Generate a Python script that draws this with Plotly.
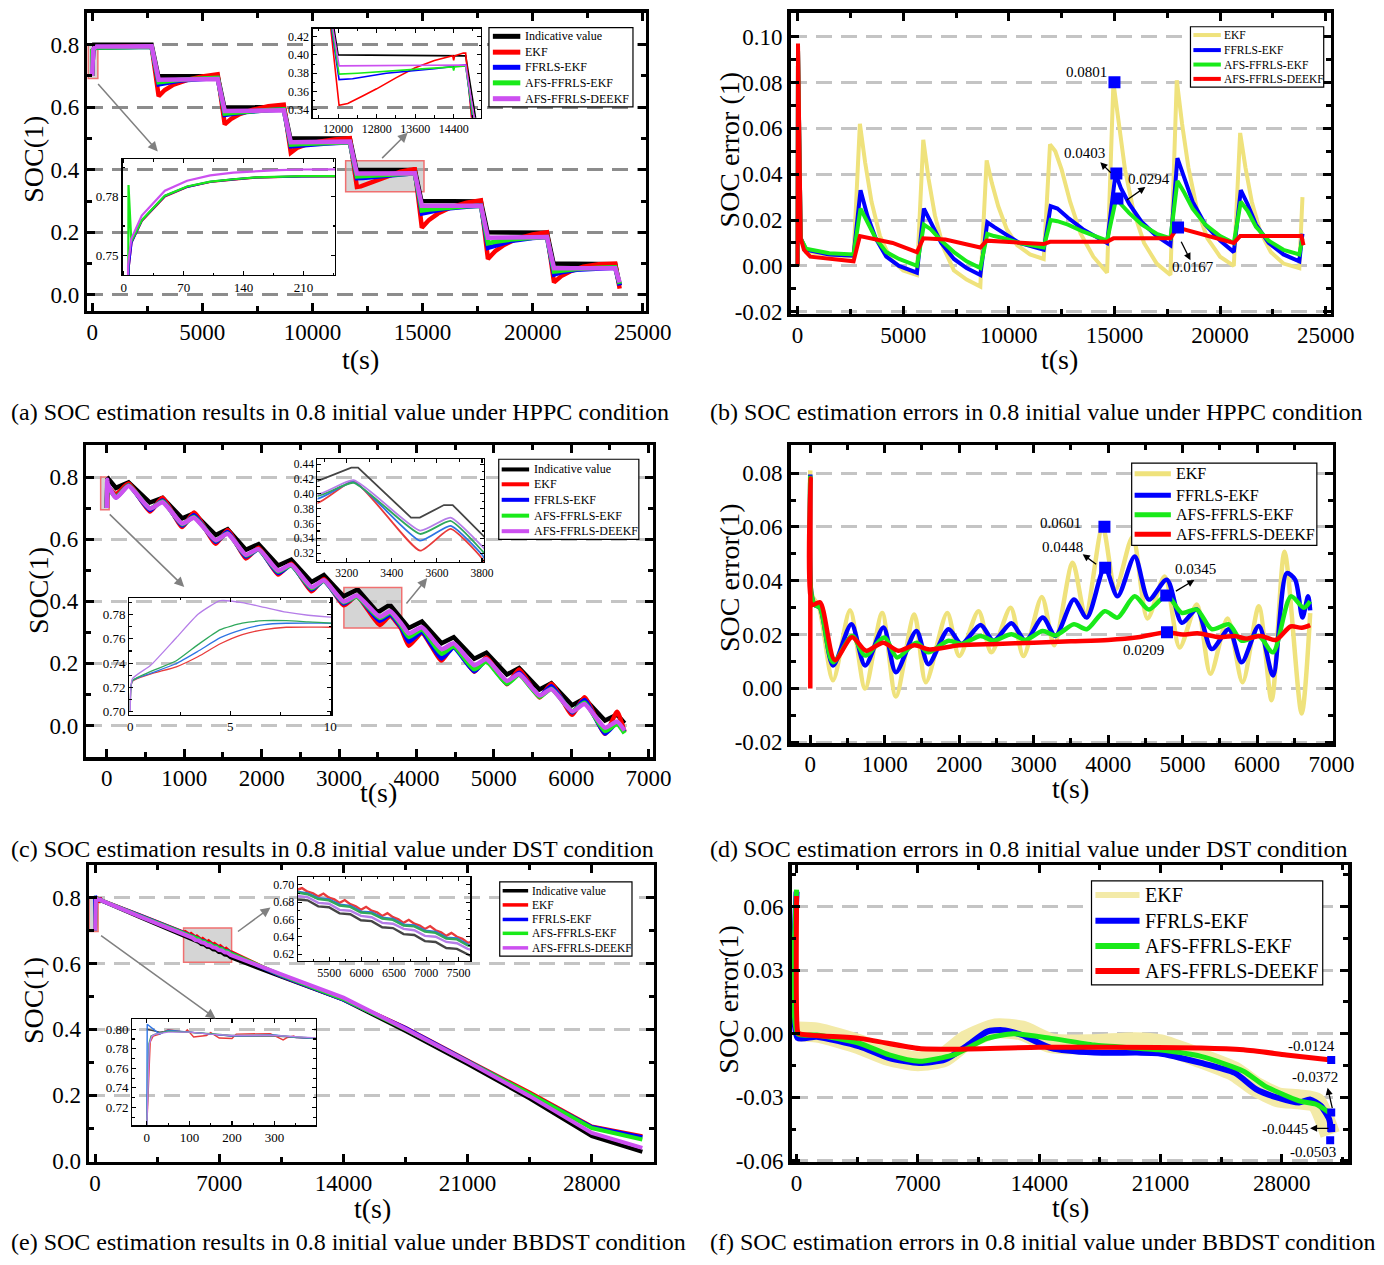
import plotly.graph_objects as go

PAGE_W, PAGE_H = 1384, 1265
OFF = 0
FW, FH = PAGE_W - 2 * OFF, PAGE_H - 2 * OFF
FONT = "Liberation Serif"

BLACK = "#000000"
RED = "#ff0000"
BLUE = "#0000ff"
GREEN = "#19ea19"
VIOLET = "#cc50f0"
YELLOW = "#efe27c"
YELLOW_BAND = "#f3eaa8"
GRAY_ARROW = "#808080"
IN_BLACK = "#454545"
IN_RED = "#e83b3b"
IN_BLUE = "#2e74e4"
IN_GREEN = "#2fa85c"
IN_VIOLET = "#b57de8"

SOC_NAMES = ["Indicative value", "EKF", "FFRLS-EKF", "AFS-FFRLS-EKF", "AFS-FFRLS-DEEKF"]
ERR_NAMES = ["EKF", "FFRLS-EKF", "AFS-FFRLS-EKF", "AFS-FFRLS-DEEKF"]

# ---------------- (a) HPPC SOC (t, SOC) ----------------
A_IND = [(0, 0.800), (2700, 0.800), (3000, 0.700), (5700, 0.699), (6000, 0.600), (8700, 0.599),
         (9000, 0.500), (11700, 0.500), (12000, 0.400), (14650, 0.399), (14950, 0.300), (17650, 0.299),
         (17950, 0.200), (20650, 0.199), (20950, 0.100), (23750, 0.098), (23950, 0.030)]
A_EKF = [(0, 0.70), (5, 0.70), (6, 0.745), (9, 0.7565), (21, 0.7676), (48, 0.7802), (74, 0.785), (101, 0.7876),
         (128, 0.7888), (154, 0.7898), (208, 0.7904), (246, 0.7908), (600, 0.792), (1500, 0.794), (2700, 0.795),
         (3020, 0.635), (3300, 0.655), (3700, 0.672), (4300, 0.687), (5000, 0.698), (5650, 0.705), (5700, 0.705),
         (6020, 0.545), (6300, 0.562), (6700, 0.578), (7300, 0.592), (8000, 0.603), (8650, 0.608), (8700, 0.608),
         (9020, 0.455), (9300, 0.470), (9700, 0.480), (10300, 0.490), (11000, 0.497), (11650, 0.501), (11700, 0.501),
         (12020, 0.345), (12200, 0.347), (12500, 0.355), (12800, 0.363), (13200, 0.375), (13600, 0.386), (14000, 0.394),
         (14380, 0.399), (14400, 0.394), (14420, 0.399), (14600, 0.402), (14650, 0.402),
         (14970, 0.215), (15300, 0.240), (15700, 0.260), (16300, 0.280), (17000, 0.295), (17600, 0.302), (17650, 0.302),
         (17970, 0.115), (18300, 0.140), (18700, 0.160), (19300, 0.180), (20000, 0.193), (20600, 0.200), (20650, 0.200),
         (20970, 0.040), (21300, 0.060), (21700, 0.075), (22300, 0.090), (23000, 0.098), (23700, 0.100), (23750, 0.100),
         (23950, 0.020)]
A_FF = [(0, 0.70), (5, 0.70), (6, 0.745), (9, 0.7565), (21, 0.7678), (48, 0.7804), (74, 0.7851), (101, 0.7877),
        (128, 0.7889), (154, 0.7899), (208, 0.7905), (246, 0.7909), (600, 0.791), (1500, 0.792), (2700, 0.793),
        (3020, 0.673), (3300, 0.677), (4000, 0.685), (5000, 0.690), (5700, 0.693),
        (6020, 0.575), (6300, 0.578), (7000, 0.585), (8000, 0.590), (8700, 0.593),
        (9020, 0.475), (9500, 0.478), (10500, 0.483), (11700, 0.488),
        (12020, 0.373), (12300, 0.374), (13000, 0.380), (14000, 0.385), (14650, 0.389),
        (14970, 0.260), (15300, 0.265), (16000, 0.275), (17000, 0.282), (17650, 0.285),
        (17970, 0.150), (18300, 0.158), (19000, 0.172), (20000, 0.182), (20650, 0.185),
        (20970, 0.065), (21300, 0.072), (22000, 0.080), (23000, 0.085), (23750, 0.087),
        (23950, 0.030)]
A_AFS = [(0, 0.70), (5, 0.70), (5.5, 0.786), (7, 0.772), (8.8, 0.757), (21, 0.768), (48, 0.7806), (74, 0.7853),
         (101, 0.7878), (128, 0.789), (154, 0.790), (208, 0.7906), (246, 0.791), (600, 0.791), (1500, 0.792), (2700, 0.793),
         (3020, 0.680), (3300, 0.683), (4000, 0.688), (5000, 0.692), (5700, 0.694),
         (6020, 0.580), (6300, 0.582), (7000, 0.587), (8000, 0.591), (8700, 0.593),
         (9020, 0.480), (9500, 0.482), (10500, 0.485), (11700, 0.488),
         (12020, 0.379), (12400, 0.380), (13500, 0.384), (14380, 0.387), (14400, 0.383), (14420, 0.387), (14650, 0.388),
         (14970, 0.270), (15300, 0.273), (16000, 0.278), (17000, 0.283), (17650, 0.285),
         (17970, 0.165), (18300, 0.170), (19000, 0.177), (20000, 0.183), (20650, 0.185),
         (20970, 0.075), (21300, 0.078), (22000, 0.083), (23000, 0.087), (23750, 0.088),
         (23950, 0.035)]
A_DE = [(0, 0.70), (4.5, 0.70), (5, 0.745), (8.8, 0.7585), (21, 0.7704), (48, 0.7831), (74, 0.7882), (101, 0.791),
        (128, 0.7924), (154, 0.7932), (181, 0.7937), (208, 0.794), (246, 0.7941), (1500, 0.7945), (2700, 0.795),
        (3020, 0.688), (5700, 0.690), (6020, 0.588), (8700, 0.590), (9020, 0.488), (11700, 0.490),
        (12020, 0.388), (14650, 0.389), (14970, 0.285), (17650, 0.285), (17970, 0.183), (20650, 0.185),
        (20970, 0.085), (23750, 0.085), (23950, 0.040)]

# ---------------- (b) HPPC errors ----------------
B_EKF = [(0, 0.0), (20, 0.095), (150, 0.012), (400, 0.006), (1500, 0.005), (2650, 0.004),
         (2950, 0.062), (3200, 0.045), (3500, 0.028), (3900, 0.013), (4400, 0.003), (5000, -0.002), (5650, -0.004),
         (5950, 0.055), (6200, 0.038), (6500, 0.022), (6900, 0.008), (7400, -0.002), (8000, -0.006), (8650, -0.009),
         (8950, 0.046), (9200, 0.036), (9500, 0.026), (9900, 0.016), (10400, 0.009), (11000, 0.005), (11650, 0.003),
         (11950, 0.053), (12200, 0.050), (12500, 0.042), (12900, 0.028), (13400, 0.014), (14000, 0.004), (14650, -0.003),
         (14950, 0.080), (15200, 0.062), (15500, 0.042), (15900, 0.024), (16400, 0.010), (17000, 0.001), (17650, -0.004),
         (17950, 0.081), (18200, 0.062), (18500, 0.043), (18900, 0.025), (19400, 0.012), (20000, 0.004), (20650, 0.000),
         (20950, 0.058), (21200, 0.043), (21500, 0.028), (21900, 0.015), (22400, 0.006), (23000, 0.001), (23750, -0.001),
         (23900, 0.030)]
B_FF = [(0, 0.0), (20, 0.095), (150, 0.012), (400, 0.007), (1500, 0.005), (2650, 0.0045),
        (2980, 0.033), (3300, 0.022), (3700, 0.012), (4200, 0.004), (4800, 0.000), (5650, -0.003),
        (5980, 0.025), (6300, 0.019), (6800, 0.010), (7400, 0.003), (8000, -0.001), (8650, -0.004),
        (8980, 0.019), (9300, 0.017), (9800, 0.014), (10500, 0.010), (11650, 0.007),
        (11980, 0.026), (12300, 0.025), (12800, 0.021), (13500, 0.016), (14650, 0.010),
        (15050, 0.0403), (15300, 0.034), (15700, 0.027), (16300, 0.019), (17000, 0.013), (17650, 0.009),
        (17980, 0.047), (18300, 0.038), (18700, 0.028), (19300, 0.018), (20000, 0.011), (20650, 0.006),
        (20980, 0.033), (21300, 0.027), (21700, 0.018), (22300, 0.010), (23000, 0.005), (23750, 0.002),
        (23900, 0.014)]
B_AFS = [(0, 0.0), (20, 0.095), (150, 0.012), (400, 0.0075), (1500, 0.0055), (2650, 0.005),
         (2980, 0.025), (3300, 0.019), (3700, 0.012), (4200, 0.006), (4800, 0.003), (5650, 0.000),
         (5980, 0.018), (6300, 0.016), (6800, 0.011), (7400, 0.006), (8000, 0.002), (8650, -0.001),
         (8980, 0.014), (9300, 0.013), (9800, 0.012), (10500, 0.010), (11650, 0.008),
         (11980, 0.020), (12300, 0.0195), (12800, 0.018), (13500, 0.015), (14650, 0.011),
         (15080, 0.0294), (15300, 0.027), (15700, 0.023), (16300, 0.018), (17000, 0.014), (17650, 0.012),
         (17980, 0.037), (18300, 0.032), (18700, 0.025), (19300, 0.018), (20000, 0.013), (20650, 0.010),
         (20980, 0.028), (21300, 0.024), (21700, 0.017), (22300, 0.011), (23000, 0.007), (23750, 0.005),
         (23900, 0.012)]
B_DE = [(0, 0.0), (20, 0.097), (150, 0.012), (300, 0.007), (600, 0.004), (1500, 0.003), (2650, 0.002),
        (2950, 0.013), (3500, 0.012), (4500, 0.010), (5650, 0.006), (5950, 0.012), (7000, 0.0115), (8650, 0.008),
        (8950, 0.011), (10000, 0.0105), (11650, 0.0095), (11950, 0.0105), (14650, 0.0105), (14950, 0.012),
        (17650, 0.012), (17980, 0.0167), (19000, 0.014), (20650, 0.010), (20950, 0.013), (23850, 0.013),
        (23950, 0.009)]
B_MARK_T = [15000, 15090, 15140, 18010]
B_MARK_V = [0.0801, 0.0403, 0.0294, 0.0167]

# ---------------- (c) DST SOC ----------------
C_IND = [(0, 0.800), (118, 0.765), (281, 0.783), (557, 0.718), (720, 0.733), (974, 0.667), (1126, 0.683),
         (1407, 0.613), (1560, 0.632), (1796, 0.566), (1960, 0.584), (2213, 0.515), (2382, 0.534), (2646, 0.462),
         (2804, 0.484), (3060, 0.416), (3220, 0.4355), (3250, 0.4355), (3485, 0.368), (3524, 0.368), (3631, 0.385),
         (3670, 0.385), (3902, 0.314), (4071, 0.335), (4324, 0.265), (4482, 0.284), (4747, 0.215), (4904, 0.234),
         (5169, 0.164), (5327, 0.185), (5591, 0.116), (5743, 0.136), (6013, 0.065), (6171, 0.087), (6436, 0.016),
         (6593, 0.035), (6689, 0.007)]
C_T_EARLY = [0, 0.1, 1.0, 2.3, 3.4, 4.5, 5.6, 6.7, 7.8, 8.9, 10]
C_T_KEY = [118, 281, 557, 720, 974, 1126, 1407, 1560, 1796, 1960, 2213, 2382, 2646, 2804, 3060, 3230, 3525,
           3660, 3800, 3902, 4071, 4324, 4482, 4747, 4904, 5169, 5327, 5591, 5743, 6013, 6171, 6436, 6593, 6689]
C_EKF_EARLY = [0.70, 0.725, 0.731, 0.737, 0.7455, 0.756, 0.7636, 0.7677, 0.7696, 0.7698, 0.7696]
C_FF_EARLY = [0.70, 0.7255, 0.7315, 0.7397, 0.750, 0.761, 0.7677, 0.7718, 0.7729, 0.773, 0.7729]
C_AFS_EARLY = [0.70, 0.7255, 0.733, 0.742, 0.7555, 0.7677, 0.773, 0.775, 0.775, 0.774, 0.773]
C_DE_EARLY = [0.70, 0.727, 0.738, 0.761, 0.7805, 0.7915, 0.790, 0.786, 0.782, 0.7795, 0.778]
C_EKF_KEY = [0.745, 0.779, 0.689, 0.733, 0.639, 0.686, 0.5855, 0.6297, 0.538, 0.572, 0.486, 0.5206, 0.432, 0.472,
             0.387, 0.417, 0.3235, 0.353, 0.313, 0.257, 0.298, 0.209, 0.258, 0.173, 0.219, 0.133, 0.180, 0.090,
             0.134, 0.0345, 0.091, -0.027, 0.044, -0.021]
C_FF_KEY = [0.735, 0.774, 0.694, 0.7245, 0.644, 0.677, 0.5917, 0.623, 0.544, 0.5675, 0.491, 0.516, 0.438, 0.466,
            0.393, 0.416, 0.337, 0.357, 0.318, 0.270, 0.301, 0.216, 0.251, 0.175, 0.210, 0.135, 0.170, 0.094,
            0.126, 0.042, 0.082, -0.026, 0.009, -0.022]
C_AFS_KEY = [0.735, 0.773, 0.6985, 0.721, 0.648, 0.6715, 0.596, 0.6186, 0.548, 0.5675, 0.4955, 0.516, 0.442, 0.466,
             0.397, 0.415, 0.346, 0.3636, 0.3235, 0.285, 0.309, 0.231, 0.255, 0.181, 0.206, 0.135, 0.163, 0.092,
             0.118, 0.0455, 0.0736, -0.018, 0.005, -0.025]
C_DE_KEY = [0.733, 0.771, 0.699, 0.719, 0.650, 0.669, 0.597, 0.6175, 0.550, 0.568, 0.499, 0.518, 0.4455, 0.4675,
            0.399, 0.4185, 0.3505, 0.368, 0.3295, 0.296, 0.3165, 0.246, 0.2645, 0.194, 0.214, 0.1435, 0.1655, 0.0965,
            0.117, 0.0455, 0.069, -0.007, 0.0125, -0.0165]

# ---------------- (d) DST errors ----------------
D_EKF = [(0, 0.081), (20, 0.035), (120, 0.030), (305, 0.003), (534, 0.029), (736, 0.0), (965, 0.028), (1149, -0.003),
         (1397, 0.0275), (1552, 0.0023), (1839, 0.028), (2000, 0.012), (2259, 0.0287), (2431, 0.0134), (2690, 0.030),
         (2862, 0.012), (3109, 0.034), (3276, 0.016), (3523, 0.0467), (3695, 0.027), (3925, 0.0601), (4098, 0.0367),
         (4328, 0.0563), (4529, 0.026), (4759, 0.0416), (4960, 0.0152), (5190, 0.0312), (5374, 0.0054), (5603, 0.026),
         (5805, 0.0023), (6023, 0.0305), (6195, -0.0044), (6368, 0.0508), (6598, -0.0093), (6713, 0.028)]
D_FF = [(0, 0.0795), (15, 0.035), (60, 0.031), (130, 0.030), (305, 0.0085), (552, 0.0238), (736, 0.0085), (983, 0.0226),
        (1149, 0.006), (1425, 0.0213), (1586, 0.009), (1856, 0.022), (2029, 0.0165), (2287, 0.0236), (2460, 0.0177),
        (2701, 0.0242), (2891, 0.0177), (3121, 0.0263), (3293, 0.0195), (3540, 0.033), (3713, 0.0263), (3954, 0.0448),
        (4126, 0.0342), (4356, 0.049), (4546, 0.033), (4787, 0.0404), (4989, 0.0244), (5190, 0.0293), (5391, 0.0146),
        (5621, 0.022), (5793, 0.0097), (6023, 0.0232), (6213, 0.0048), (6397, 0.0428), (6511, 0.0404), (6609, 0.0263),
        (6684, 0.0342), (6713, 0.029)]
D_AFS = [(0, 0.079), (15, 0.035), (60, 0.031), (130, 0.030), (305, 0.0097), (563, 0.0195), (736, 0.0122), (995, 0.0189),
         (1167, 0.0115), (1425, 0.017), (1586, 0.0134), (1856, 0.0177), (2029, 0.0165), (2287, 0.0195), (2460, 0.0177),
         (2701, 0.0201), (2891, 0.018), (3121, 0.0213), (3293, 0.0197), (3540, 0.0238), (3713, 0.022), (3954, 0.0287),
         (4126, 0.0263), (4356, 0.0342), (4546, 0.0293), (4787, 0.0345), (4989, 0.0281), (5190, 0.0293), (5391, 0.022),
         (5621, 0.0238), (5793, 0.0177), (6023, 0.0195), (6213, 0.0134), (6454, 0.0342), (6626, 0.030), (6713, 0.0324)]
D_DE = [(0, 0.0), (5, 0.078), (25, 0.031), (130, 0.032), (330, 0.0105), (560, 0.019), (750, 0.014), (980, 0.017),
        (1180, 0.014), (1400, 0.016), (1600, 0.0145), (2000, 0.016), (2500, 0.0165), (3000, 0.017), (3500, 0.0175),
        (4000, 0.018), (4400, 0.019), (4787, 0.0209), (5000, 0.020), (5200, 0.0205), (5500, 0.019), (5700, 0.0195),
        (5850, 0.0185), (6050, 0.0195), (6250, 0.018), (6450, 0.023), (6600, 0.0225), (6713, 0.0235)]
D_MARK_T = [3950, 3960, 4780, 4790]
D_MARK_V = [0.0601, 0.0448, 0.0345, 0.0209]

# ---------------- (e) BBDST SOC ----------------
E_IND = [(0, 0.800), (30, 0.797), (50, 0.798), (100, 0.797), (150, 0.795), (200, 0.793), (300, 0.793), (350, 0.7915),
         (2500, 0.742), (5000, 0.683), (5165, 0.682), (5330, 0.675), (5495, 0.674), (5660, 0.667), (5825, 0.666),
         (5990, 0.659), (6155, 0.658), (6320, 0.651), (6485, 0.650), (6650, 0.643), (6815, 0.642), (6980, 0.635),
         (7145, 0.634), (7310, 0.627), (7475, 0.626), (7640, 0.619), (7700, 0.6175), (10500, 0.560), (14000, 0.490),
         (17500, 0.395), (21000, 0.295), (24500, 0.190), (28000, 0.075), (30850, 0.028)]
E_EKF = [(0, 0.70), (8, 0.787), (15, 0.793), (30, 0.795), (50, 0.7995), (90, 0.797), (95, 0.7995), (110, 0.792),
         (140, 0.7935), (150, 0.7965), (170, 0.791), (200, 0.7905), (210, 0.795), (290, 0.7955), (320, 0.789),
         (330, 0.7915), (345, 0.793), (350, 0.7915), (2500, 0.747), (5000, 0.694), (5080, 0.696), (5165, 0.692),
         (5250, 0.690), (5330, 0.6865), (5410, 0.6898), (5495, 0.685), (5580, 0.683), (5660, 0.679), (5740, 0.6823),
         (5825, 0.6775), (5910, 0.675), (5990, 0.671), (6070, 0.6745), (6155, 0.670), (6240, 0.668), (6320, 0.664),
         (6400, 0.6673), (6485, 0.6625), (6570, 0.660), (6650, 0.656), (6730, 0.6595), (6815, 0.655), (6900, 0.653),
         (6980, 0.649), (7060, 0.6523), (7145, 0.6475), (7230, 0.645), (7310, 0.641), (7390, 0.6445), (7475, 0.640),
         (7560, 0.6375), (7640, 0.633), (7700, 0.634), (10500, 0.562), (14000, 0.491), (17500, 0.405), (21000, 0.305),
         (24500, 0.208), (28000, 0.105), (30850, 0.075)]
E_FF = [(0, 0.70), (1, 0.805), (30, 0.795), (50, 0.799), (100, 0.797), (150, 0.795), (200, 0.793), (300, 0.794),
        (350, 0.7915), (2500, 0.746), (5000, 0.692), (5165, 0.690), (5330, 0.6845), (5495, 0.683), (5660, 0.677),
        (5825, 0.6755), (5990, 0.669), (6155, 0.668), (6320, 0.662), (6485, 0.6605), (6650, 0.654), (6815, 0.653),
        (6980, 0.647), (7145, 0.6455), (7310, 0.639), (7475, 0.638), (7640, 0.631), (7700, 0.630), (10500, 0.562),
        (14000, 0.490), (17500, 0.404), (21000, 0.304), (24500, 0.206), (28000, 0.103), (30850, 0.072)]
E_AFS = [(0, 0.70), (5, 0.785), (10, 0.793), (20, 0.795), (50, 0.798), (100, 0.797), (150, 0.7955), (200, 0.7935),
         (300, 0.7935), (350, 0.792), (2500, 0.745), (5000, 0.691), (5165, 0.689), (5330, 0.6835), (5495, 0.682),
         (5660, 0.676), (5825, 0.6745), (5990, 0.668), (6155, 0.667), (6320, 0.661), (6485, 0.6595), (6650, 0.653),
         (6815, 0.652), (6980, 0.646), (7145, 0.6445), (7310, 0.638), (7475, 0.637), (7640, 0.630), (7700, 0.629),
         (10500, 0.565), (14000, 0.492), (17500, 0.4005), (21000, 0.3026), (24500, 0.204), (28000, 0.100), (30850, 0.065)]
E_DE = [(0, 0.70), (6, 0.785), (12, 0.793), (20, 0.795), (50, 0.797), (100, 0.797), (150, 0.795), (200, 0.7935),
        (300, 0.7935), (350, 0.792), (2500, 0.7435), (5000, 0.687), (5165, 0.6855), (5330, 0.679), (5495, 0.678),
        (5660, 0.671), (5825, 0.670), (5990, 0.664), (6155, 0.6625), (6320, 0.656), (6485, 0.655), (6650, 0.649),
        (6815, 0.6475), (6980, 0.641), (7145, 0.640), (7310, 0.634), (7475, 0.6325), (7640, 0.626), (7700, 0.625),
        (10500, 0.567), (14000, 0.4964), (17500, 0.4014), (21000, 0.3015), (24500, 0.197), (28000, 0.085), (30850, 0.040)]

# ---------------- (f) BBDST errors ----------------
F_EKF = [(60, 0.001), (1200, 0.0005), (3600, -0.005), (5300, -0.0105), (7000, -0.013), (8500, -0.011), (9800, -0.003),
         (11500, 0.0025), (13000, 0.0015), (14700, -0.0045), (17000, -0.005), (19500, -0.004), (21000, -0.005),
         (23300, -0.0115), (25300, -0.018), (26500, -0.025), (27800, -0.030), (29000, -0.031), (30000, -0.0325),
         (30800, -0.0475)]
F_FF = [(0, 0.067), (60, -0.002), (1160, -0.0014), (3620, -0.006), (5350, -0.0115), (7070, -0.0138), (8550, -0.0123),
        (9780, -0.006), (11000, 0.001), (11880, 0.0017), (13000, -0.0006), (14700, -0.0068), (17180, -0.0089),
        (19650, -0.0089), (20880, -0.0092), (23340, -0.0138), (25300, -0.0185), (26540, -0.0263), (27770, -0.0302),
        (29000, -0.0325), (29630, -0.031), (30250, -0.034), (30740, -0.0403), (30860, -0.0465)]
F_AFS = [(0, 0.068), (60, 0.0), (1160, -0.0006), (3620, -0.0045), (5350, -0.010), (7070, -0.013), (9050, -0.010),
         (11000, -0.0022), (12500, 0.0), (14700, -0.0022), (17180, -0.0053), (20880, -0.0076), (23340, -0.0107),
         (25800, -0.0177), (27040, -0.0247), (29000, -0.0317), (29980, -0.0333), (30740, -0.0372), (30860, -0.038)]
F_DE = [(0, 0.065), (60, 0.001), (150, 0.0), (3620, -0.0022), (7070, -0.007), (9050, -0.0073), (14000, -0.0064),
        (18400, -0.0064), (23340, -0.0067), (25800, -0.0076), (28270, -0.010), (30860, -0.0124)]
F_MARK_T = [30860, 30860, 30860, 30800]
F_MARK_V = [-0.0124, -0.0372, -0.0445, -0.0503]

# ---------------- tick labels ----------------
SOC_TICKS = [0.0, 0.2, 0.4, 0.6, 0.8]
SOC_TICKTEXT = ["0.0", "0.2", "0.4", "0.6", "0.8"]
HPPC_T_TICKS = [0, 5000, 10000, 15000, 20000, 25000]
DST_T_TICKS = [0, 1000, 2000, 3000, 4000, 5000, 6000, 7000]
BBDST_T_TICKS = [0, 7000, 14000, 21000, 28000]
B_Y_TICKS = [-0.02, 0.0, 0.02, 0.04, 0.06, 0.08, 0.10]
B_Y_TEXT = ["-0.02", "0.00", "0.02", "0.04", "0.06", "0.08", "0.10"]
D_Y_TICKS = [-0.02, 0.0, 0.02, 0.04, 0.06, 0.08]
D_Y_TEXT = ["-0.02", "0.00", "0.02", "0.04", "0.06", "0.08"]
F_Y_TICKS = [-0.06, -0.03, 0.0, 0.03, 0.06]
F_Y_TEXT = ["-0.06", "-0.03", "0.00", "0.03", "0.06"]

fig = go.Figure()
layout = {}
shapes = []
ann = []


def PX(x):
    return (x - OFF) / FW


def PY(y):
    return 1 - (y - OFF) / FH


def keys(n):
    s = "" if n == 1 else str(n)
    return "xaxis" + s, "yaxis" + s, "x" + s, "y" + s


def labels(vals):
    return [str(v) for v in vals]


def add_axes(n, frame, xr, yr, xt, xtt, yt, ytt, xminor, yminor, main=True, tsize=23, grid=None):
    l, t, r, b = frame
    xk, yk, xa, ya = keys(n)
    lw = 3.5 if main else 1.3
    tl = 8 if main else 4
    tw = 3 if main else 1.1
    common = dict(showline=True, linecolor=BLACK, linewidth=lw, mirror="ticks", ticks="inside",
                  ticklen=tl, tickwidth=tw, tickcolor=BLACK,
                  tickfont=dict(family=FONT, size=tsize, color=BLACK), zeroline=False, fixedrange=True)
    layout[xk] = dict(domain=[PX(l), PX(r)], range=xr, anchor=ya, tickmode="array", tickvals=xt, ticktext=xtt,
                      showgrid=False, ticklabelstandoff=-2 if main else 0,
                      minor=dict(ticks="inside", ticklen=tl * 0.6, tickwidth=tw, tickcolor=BLACK,
                                 dtick=xminor, tick0=0, showgrid=False), **common)
    g = dict(showgrid=False) if grid is None else dict(showgrid=True, gridcolor=grid, gridwidth=3,
                                                       griddash="16px,9px")
    layout[yk] = dict(domain=[PY(b), PY(t)], range=yr, anchor=xa, tickmode="array", tickvals=yt,
                      ticktext=ytt,
                      minor=dict(ticks="inside", ticklen=tl * 0.6, tickwidth=tw, tickcolor=BLACK,
                                 dtick=yminor, tick0=0, showgrid=False), **g, **common)


def add_xy(n, xs, ys, color, width, shape="linear", smooth=1.0):
    _, _, xa, ya = keys(n)
    ln = dict(color=color, width=width, shape=shape)
    if shape == "spline":
        ln["smoothing"] = smooth
    fig.add_trace(go.Scatter(x=xs, y=ys, mode="lines", line=ln, xaxis=xa, yaxis=ya,
                             showlegend=False, hoverinfo="skip"))


def add_pairs(n, pairs, color, width, shape="linear", smooth=1.0):
    add_xy(n, [p[0] for p in pairs], [p[1] for p in pairs], color, width, shape, smooth)


def add_marks(n, xs, ys, size):
    _, _, xa, ya = keys(n)
    fig.add_trace(go.Scatter(x=xs, y=ys, mode="markers", marker=dict(symbol="square", size=size, color=BLUE),
                             xaxis=xa, yaxis=ya, showlegend=False, hoverinfo="skip"))


def txt(s, x, y, size, angle=0, xanchor="center"):
    return dict(x=PX(x), y=PY(y), xref="paper", yref="paper", text=s, showarrow=False, textangle=angle,
                xanchor=xanchor, yanchor="middle", borderpad=0,
                font=dict(family=FONT, size=size, color=BLACK))


def arrow(tail, head, color, width, size):
    return dict(x=PX(head[0]), y=PY(head[1]), xref="paper", yref="paper", ax=tail[0] - head[0],
                ay=tail[1] - head[1], axref="pixel", ayref="pixel", text="", showarrow=True, arrowhead=2,
                arrowsize=size, arrowwidth=width, arrowcolor=color, standoff=0, startstandoff=0)


def legend_box(box, rows, sample, text_x, size, lw, names, colors):
    l, t, r, b = box
    shapes.append(dict(type="rect", xref="paper", yref="paper", x0=PX(l), x1=PX(r), y0=PY(b), y1=PY(t),
                       line=dict(color=BLACK, width=1.2), fillcolor="white", layer="above"))
    for y, nm, c in zip(rows, names, colors):
        shapes.append(dict(type="line", xref="paper", yref="paper", x0=PX(sample[0]), x1=PX(sample[1]),
                           y0=PY(y), y1=PY(y), line=dict(color=c, width=lw), layer="above"))
        ann.append(txt(nm, text_x, y, size, xanchor="left"))


# ---------------- axes ----------------
add_axes(1, (87, 12, 657, 313), [-222, 25133], [-0.0508, 0.9016], HPPC_T_TICKS, labels(HPPC_T_TICKS),
         SOC_TICKS, SOC_TICKTEXT, 2500, 0.1, grid="#8c8c8c")
add_axes(2, (317, 28, 489, 118), [11470, 14970], [0.3314, 0.4286], [12000, 12800, 13600, 14400],
         ["12000", "12800", "13600", "14400"], [0.34, 0.36, 0.38, 0.40, 0.42],
         ["0.34", "0.36", "0.38", "0.40", "0.42"], 400, 0.01, main=False, tsize=12)
add_axes(3, (123, 160, 340, 277), [-1.5, 247], [0.7398, 0.7992], [0, 70, 140, 210], ["0", "70", "140", "210"],
         [0.75, 0.78], ["0.75", "0.78"], 35, 0.015, main=False, tsize=13)
add_axes(4, (805, 12, 1356, 316), [-325, 25230], [-0.0209, 0.1104], HPPC_T_TICKS, labels(HPPC_T_TICKS),
         B_Y_TICKS, B_Y_TEXT, 2500, 0.01, grid="#c4c4c4")
add_axes(5, (86, 449, 664, 764), [-266, 7051], [-0.102, 0.902], DST_T_TICKS, labels(DST_T_TICKS),
         SOC_TICKS, SOC_TICKTEXT, 500, 0.1, grid="#c4c4c4")
add_axes(6, (322, 463, 492, 567), [3070, 3809], [0.308, 0.4467], [3200, 3400, 3600, 3800],
         ["3200", "3400", "3600", "3800"], [0.32, 0.34, 0.36, 0.38, 0.40, 0.42, 0.44],
         ["0.32", "0.34", "0.36", "0.38", "0.40", "0.42", "0.44"], 100, 0.01, main=False, tsize=11.5)
add_axes(7, (130, 603, 336, 721), [-0.05, 10.05], [0.6976, 0.7939], [0, 5, 10], ["0", "5", "10"],
         [0.70, 0.72, 0.74, 0.76, 0.78], ["0.70", "0.72", "0.74", "0.76", "0.78"], 2.5, 0.01, main=False, tsize=13)
add_axes(8, (805, 449, 1358, 750), [-263, 7013], [-0.0204, 0.0903], DST_T_TICKS, labels(DST_T_TICKS),
         D_Y_TICKS, D_Y_TEXT, 500, 0.01, grid="#c4c4c4")
add_axes(9, (89, 873, 665, 1173), [-331, 31481], [-0.003, 0.8993], BBDST_T_TICKS, labels(BBDST_T_TICKS),
         SOC_TICKS, SOC_TICKTEXT, 3500, 0.1, grid="#c4c4c4")
add_axes(10, (302, 885, 478, 970), [5015, 7682], [0.612, 0.709], [5500, 6000, 6500, 7000, 7500],
         ["5500", "6000", "6500", "7000", "7500"], [0.62, 0.64, 0.66, 0.68, 0.70],
         ["0.62", "0.64", "0.66", "0.68", "0.70"], 250, 0.01, main=False, tsize=12)
add_axes(11, (133, 1029, 320, 1136), [-34, 396], [0.7017, 0.810], [0, 100, 200, 300], ["0", "100", "200", "300"],
         [0.72, 0.74, 0.76, 0.78, 0.80], ["0.72", "0.74", "0.76", "0.78", "0.80"], 50, 0.01, main=False, tsize=13)
add_axes(12, (806, 873, 1374, 1173), [-283, 31840], [-0.0605, 0.0796], BBDST_T_TICKS, labels(BBDST_T_TICKS),
         F_Y_TICKS, F_Y_TEXT, 3500, 0.015, grid="#c4c4c4")

# ---------------- (a) ----------------
A_SERIES = [A_IND, A_EKF, A_FF, A_AFS, A_DE]
A_COLORS = [BLACK, RED, BLUE, GREEN, VIOLET]
for s, c in zip(A_SERIES, A_COLORS):
    add_pairs(1, s, c, 4.5)
for s, c in zip(A_SERIES, A_COLORS):
    add_pairs(2, s, c, 1.6)
for s, c in zip(A_SERIES, A_COLORS):
    add_pairs(3, s, c, 2.2)

# ---------------- (b) ----------------
for s, c in zip([B_EKF, B_FF, B_AFS, B_DE], [YELLOW, BLUE, GREEN, RED]):
    add_pairs(4, s, c, 4)
add_marks(4, B_MARK_T, B_MARK_V, 12)

# ---------------- (c) ----------------
C_EST = [(C_EKF_EARLY, C_EKF_KEY), (C_FF_EARLY, C_FF_KEY), (C_AFS_EARLY, C_AFS_KEY), (C_DE_EARLY, C_DE_KEY)]
add_pairs(5, C_IND, BLACK, 4.5)
for (e, k), c in zip(C_EST, [RED, BLUE, GREEN, VIOLET]):
    add_xy(5, C_T_EARLY + C_T_KEY, e + k, c, 4.5, "spline", 0.5)
for n, w in [(6, 1.8), (7, 1.3)]:
    add_pairs(n, C_IND, IN_BLACK, w)
    for (e, k), c in zip(C_EST, [IN_RED, IN_BLUE, IN_GREEN, IN_VIOLET]):
        add_xy(n, C_T_EARLY + C_T_KEY, e + k, c, w, "spline", 0.5)

# ---------------- (d) ----------------
for s, c in zip([D_EKF, D_FF, D_AFS, D_DE], [YELLOW, BLUE, GREEN, RED]):
    add_pairs(8, s, c, 4.5, "spline", 0.8)
add_marks(8, D_MARK_T, D_MARK_V, 12)

# ---------------- (e) ----------------
E_SERIES = [E_IND, E_EKF, E_FF, E_AFS, E_DE]
for s, c in zip(E_SERIES, [BLACK, RED, BLUE, GREEN, VIOLET]):
    add_pairs(9, s, c, 4)
for n, w in [(10, 2.4), (11, 1.4)]:
    for s, c in zip(E_SERIES, [IN_BLACK, IN_RED, IN_BLUE, IN_GREEN, IN_VIOLET]):
        add_pairs(n, s, c, w)

# ---------------- (f) ----------------
add_pairs(12, F_EKF, YELLOW_BAND, 20, "spline", 0.6)
for s, c, w in zip([F_FF, F_AFS, F_DE], [BLUE, GREEN, RED], [6, 5, 5]):
    add_pairs(12, s, c, w, "spline", 0.6)
add_marks(12, F_MARK_T, F_MARK_V, 8)

# ---------------- legends ----------------
legend_box((497, 27, 644, 107), [35.7, 51.7, 67, 82.7, 98.7], (501, 529), 533, 12, 5, SOC_NAMES,
           [BLACK, RED, BLUE, GREEN, VIOLET])
legend_box((1213, 26, 1349, 87), [34.4, 49.6, 64.2, 78.7], (1216, 1244), 1246, 11.5, 4, ERR_NAMES,
           [YELLOW, BLUE, GREEN, RED])
legend_box((507, 463, 650, 544), [473.3, 488.3, 504, 520, 535.7], (510, 538), 542, 12, 4, SOC_NAMES,
           [BLACK, RED, BLUE, GREEN, VIOLET])
legend_box((1153, 467, 1342, 550), [477.7, 499.3, 519, 538.7], (1156, 1193), 1197, 16, 5, ERR_NAMES,
           [YELLOW, BLUE, GREEN, RED])
legend_box((508, 890, 643, 965), [899, 913.3, 928, 942, 956.7], (511, 537), 540, 11.5, 3.5, SOC_NAMES,
           [BLACK, RED, BLUE, GREEN, VIOLET])
legend_box((1112, 889, 1348, 994), [903.3, 929.3, 954.7, 980], (1116, 1161), 1166, 20, 6, ERR_NAMES,
           [YELLOW_BAND, BLUE, GREEN, RED])

# ---------------- annotations ----------------
CAPTIONS = [
    ("(a) SOC estimation results in 0.8 initial value under HPPC condition", 8, 415),
    ("(b) SOC estimation errors in 0.8 initial value under HPPC condition", 722, 415),
    ("(c) SOC estimation results in 0.8 initial value under DST condition", 8, 857),
    ("(d) SOC estimation errors in 0.8 initial value under DST condition", 722, 857),
    ("(e) SOC estimation results in 0.8 initial value under BBDST condition", 8, 1254),
    ("(f) SOC estimation errors in 0.8 initial value under BBDST condition", 722, 1254),
]
for s, x, y in CAPTIONS:
    ann.append(txt(s, x, y, 24, xanchor="left"))

for s, x, y in [("SOC(1)", 32, 160), ("SOC error (1)", 742, 150), ("SOC(1)", 38, 596),
                ("SOC error(1)", 742, 582), ("SOC(1)", 32, 1010), ("SOC error(1)", 742, 1008)]:
    ann.append(txt(s, x, y, 28, angle=-90))
for x, y in [(366, 362), (1079, 362), (384, 800), (1091, 796), (378, 1220), (1091, 1219)]:
    ann.append(txt("t(s)", x, y, 28))

for s, x, y in [("0.0801", 1107, 72), ("0.0403", 1105, 154), ("0.0294", 1171, 180), ("0.0167", 1216, 269),
                ("0.0601", 1080, 527), ("0.0448", 1082, 552), ("0.0345", 1218, 574), ("0.0209", 1165, 656),
                ("-0.0124", 1337, 1056), ("-0.0372", 1340, 1087), ("-0.0445", 1309, 1140), ("-0.0503", 1338, 1163)]:
    ann.append(txt(s, x, y, 15))

for tail, head in [((1133, 175), (1121, 163)), ((1147, 202), (1167, 188)), ((1203, 242), (1213, 262)),
                   ((1118, 570), (1103, 559)), ((1197, 597), (1217, 585)),
                   ((1358, 1120), (1353, 1098)), ((1355, 1139), (1335, 1139))]:
    ann.append(arrow(tail, head, BLACK, 1.3, 1.1))

for tail, head in [((98, 83), (159, 152)), ((387, 160), (414, 133)),
                   ((110, 518), (186, 592)), ((412, 610), (434, 583)),
                   ((102, 944), (218, 1028)), ((240, 941), (274, 916))]:
    ann.append(arrow(tail, head, GRAY_ARROW, 1.5, 1.3))


# ---------------- zoom rectangles ----------------
def rect(n, x0, x1, y0, y1):
    _, _, xa, ya = keys(n)
    return dict(type="rect", xref=xa, yref=ya, x0=x0, x1=x1, y0=y0, y1=y1, layer="between",
                line=dict(color="#f07070", width=1.5), fillcolor="rgba(185,185,185,0.6)")


shapes = [rect(1, -180, 260, 0.692, 0.802), rect(1, 11510, 15067, 0.330, 0.4286),
          rect(5, -80, 30, 0.695, 0.800), rect(5, 3063, 3810, 0.314, 0.444),
          rect(9, -330, 170, 0.697, 0.803), rect(9, 4990, 7695, 0.604, 0.708)] + shapes

fig.update_layout(width=FW, height=FH, margin=dict(l=0, r=0, t=0, b=0), paper_bgcolor="white",
                  plot_bgcolor="rgba(0,0,0,0)", hovermode=False, annotations=ann, shapes=shapes,
                  showlegend=False, font=dict(family=FONT, color=BLACK), **layout)
fig.write_html("out.html", config={"displayModeBar": False, "staticPlot": True},
               post_script="document.body.style.margin='0px';document.body.style.padding='0px';"
                           "document.documentElement.style.overflow='hidden';")
